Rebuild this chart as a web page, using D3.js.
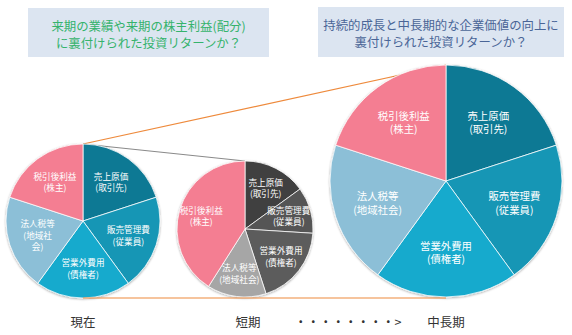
<!DOCTYPE html>
<html>
<head>
<meta charset="utf-8">
<script src="https://cdn.jsdelivr.net/npm/d3@7/dist/d3.min.js"></script>
<style>
  html, body { margin: 0; padding: 0; background: #fff; }
  svg { display: block; font-family: "Noto Sans CJK JP", "Noto Sans", sans-serif; }
</style>
</head>
<body>
<svg id="chart" width="572" height="335"></svg>
<script>
// Cost categories and the stakeholder each one goes to
const categories = ["売上原価", "販売管理費", "営業外費用", "法人税等", "税引後利益"];
const stakeholders = ["取引先", "従業員", "債権者", "地域社会", "株主"];

// Share of revenue (%) per category for each horizon
const currentShares = [20, 20, 20, 20, 20];
const shortTermShares = [15, 11, 19, 14, 41];
const midLongShares = [20, 20, 20, 20, 20];

const periodLabels = ["現在", "短期", "中長期"];
const arrowText = "・・・・・・・・>";

const shortTermTitle = ["来期の業績や来期の株主利益(配分)", "に裏付けられた投資リターンか？"];
const midLongTitle = ["持続的成長と中長期的な企業価値の向上に", "裏付けられた投資リターンか？"];

const tealColors = ["#0f7994", "#1496b5", "#17aacd", "#8cbfd7", "#f47e92"];
const grayColors = ["#3f3f3f", "#545454", "#5c5c5c", "#a6a6a6", "#f47e92"];

const svg = d3.select("#chart");

// soft shadow around each pie
const defs = svg.append("defs");
const shadow = defs.append("filter").attr("id", "pieShadow")
  .attr("x", "-10%").attr("y", "-10%").attr("width", "120%").attr("height", "120%");
shadow.append("feDropShadow").attr("dx", 0).attr("dy", 0.8)
  .attr("stdDeviation", 1.2).attr("flood-color", "#000").attr("flood-opacity", 0.35);

const pies = [
  { shares: currentShares, colors: tealColors, cx: 83, cy: 221, r: 77, font: 8.6, lh: 11.5, lr: 0.62,
    wrap: { "地域社会": ["(地域社", "会)"] } },
  { shares: shortTermShares, colors: grayColors, cx: 245, cy: 229, r: 68, font: 8.6, lh: 11.5, lr: 0.67, wrap: {} },
  { shares: midLongShares, colors: tealColors, cx: 446, cy: 181, r: 116, font: 10.4, lh: 13.5, lr: 0.62, wrap: {} }
];

const pie = d3.pie().sort(null).value(d => d);

// connector lines between pies (drawn under the pies)
const links = svg.append("g");
const p1 = pies[0], p2 = pies[1], p3 = pies[2];
links.append("line")
  .attr("x1", p1.cx).attr("y1", p1.cy - p1.r)
  .attr("x2", p3.cx).attr("y2", p3.cy - p3.r)
  .attr("stroke", "#ee8a3c").attr("stroke-width", 1.2);
links.append("line")
  .attr("x1", p1.cx).attr("y1", p1.cy - p1.r)
  .attr("x2", p2.cx).attr("y2", p2.cy - p2.r)
  .attr("stroke", "#8a8a8a").attr("stroke-width", 1.2);

pies.forEach(p => {
  const color = d3.scaleOrdinal().domain(categories).range(p.colors);
  const arc = d3.arc().innerRadius(0).outerRadius(p.r);
  const labelArc = d3.arc().innerRadius(p.r * p.lr).outerRadius(p.r * p.lr);
  const arcs = pie(p.shares).map((a, i) => Object.assign(a, { cat: categories[i], who: stakeholders[i] }));

  const g = svg.append("g").attr("transform", `translate(${p.cx},${p.cy})`);
  g.append("g").attr("filter", "url(#pieShadow)")
    .selectAll("path").data(arcs).join("path")
    .attr("d", arc)
    .attr("fill", d => color(d.cat))
    .attr("stroke", "#ffffff").attr("stroke-width", 0.9).attr("stroke-opacity", 0.85);

  const labels = g.selectAll("text.lbl").data(arcs).join("text")
    .attr("class", "lbl")
    .attr("text-anchor", "middle")
    .attr("fill", "#ffffff")
    .attr("font-size", p.font);

  labels.each(function(d) {
    const [x, y] = labelArc.centroid(d);
    const lines = [d.cat].concat(p.wrap[d.who] || [`(${d.who})`]);
    const t = d3.select(this);
    const top = y - (lines.length - 1) * p.lh / 2;
    lines.forEach((s, k) => {
      t.append("tspan").attr("x", x).attr("y", top + k * p.lh)
        .attr("dy", "0.35em").text(s);
    });
  });
});

// bottom connector line
svg.append("line")
  .attr("x1", p1.cx).attr("y1", 298)
  .attr("x2", p3.cx).attr("y2", 298)
  .attr("stroke", "#ee8a3c").attr("stroke-width", 1.2);

// title boxes
function titleBox(x, y, w, h, lines, color) {
  const g = svg.append("g");
  g.append("rect").attr("x", x).attr("y", y).attr("width", w).attr("height", h).attr("fill", "#dce5f1");
  g.append("text").attr("text-anchor", "middle").attr("fill", color).attr("font-size", 12.4)
    .selectAll("tspan").data(lines).join("tspan")
    .attr("x", x + w / 2).attr("y", (d, i) => y + 19 + i * 16.5).attr("dy", "0.35em")
    .text(d => d);
}
titleBox(28, 8, 241, 49, shortTermTitle, "#35b36c");
titleBox(318, 7, 246, 50, midLongTitle, "#4a6597");

// period labels
const periodX = [p1.cx, 248, p3.cx];
svg.selectAll("text.period").data(periodLabels).join("text")
  .attr("class", "period")
  .attr("x", (d, i) => periodX[i]).attr("y", 323).attr("dy", "0.35em")
  .attr("text-anchor", "middle").attr("font-size", 12.5).attr("fill", "#333")
  .text(d => d);

svg.append("text").attr("x", 348).attr("y", 323).attr("dy", "0.35em")
  .attr("text-anchor", "middle").attr("font-size", 12.5).attr("fill", "#333")
  .text(arrowText);
</script>
</body>
</html>
